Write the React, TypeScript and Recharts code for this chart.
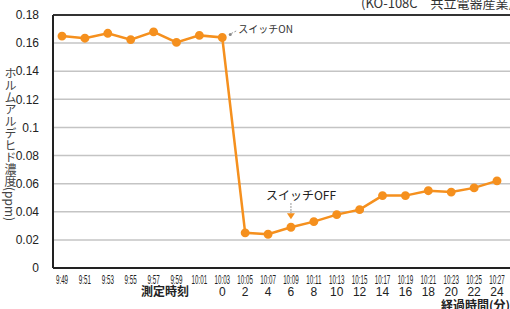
import React from 'react';
import { LineChart, Line, XAxis, YAxis, CartesianGrid, ReferenceLine, ReferenceDot } from 'recharts';

const times = ['9:49', '9:51', '9:53', '9:55', '9:57', '9:59', '10:01', '10:03', '10:05', '10:07', '10:09', '10:11', '10:13', '10:15', '10:17', '10:19', '10:21', '10:23', '10:25', '10:27'];
const elapsedMinutes = ['', '', '', '', '', '', '', '0', '2', '4', '6', '8', '10', '12', '14', '16', '18', '20', '22', '24'];
const formaldehyde = [0.165, 0.1635, 0.167, 0.1625, 0.168, 0.1605, 0.1655, 0.164, 0.025, 0.024, 0.029, 0.033, 0.038, 0.0415, 0.0515, 0.0515, 0.055, 0.054, 0.057, 0.062];
const yTicks = [0, 0.02, 0.04, 0.06, 0.08, 0.1, 0.12, 0.14, 0.16, 0.18];

const data = times.map((t, i) => ({ time: t, value: formaldehyde[i] }));

const ORANGE = '#f5901e';
const JP = "'Noto Sans CJK JP', 'Noto Sans', sans-serif";
const SANS = "'Liberation Sans', Arial, sans-serif";

const TimeTick = (props: any) => {
  const { x, y, payload } = props;
  const label = String(payload.value);
  const idx = times.indexOf(label);
  const el = idx >= 0 ? elapsedMinutes[idx] : '';
  return (
    <g>
      <text
        transform={`translate(${x},${y + 10}) scale(0.52,1)`}
        x={0}
        y={0}
        textAnchor="middle"
        dominantBaseline="central"
        fontSize={12}
        fontFamily={SANS}
        fill="#222"
      >
        {label}
      </text>
      {el !== '' && (
        <text x={x} y={y + 22} textAnchor="middle" dominantBaseline="central" fontSize={12} fontFamily={SANS} fill="#222">
          {el}
        </text>
      )}
    </g>
  );
};

const OnMarker = (p: any) => {
  const { cx, cy } = p;
  return (
    <g>
      <circle cx={cx + 8} cy={cy - 3} r={1.5} fill="#888" />
      <line x1={cx + 9} y1={cy - 4} x2={cx + 15} y2={cy - 7} stroke="#999" strokeDasharray="2 1.5" />
      <text x={cx + 16} y={cy - 9} dominantBaseline="central" fontSize={10} fontFamily={JP} fill="#333">スイッチON</text>
    </g>
  );
};

const OffMarker = (p: any) => {
  const { cx, cy } = p;
  return (
    <g>
      <text x={cx - 25} y={cy - 33} dominantBaseline="central" fontSize={12} fontFamily={JP} fill="#222">スイッチOFF</text>
      <line x1={cx} y1={cy - 24} x2={cx} y2={cy - 14} stroke="#777" strokeDasharray="1.5 1.5" />
      <path d={`M ${cx - 4} ${cy - 14} L ${cx + 4} ${cy - 14} L ${cx} ${cy - 8} Z`} fill={ORANGE} />
    </g>
  );
};

export default function App() {
  return (
    <div style={{ position: 'absolute', left: 0, top: 0, width: 510, height: 309, background: '#fff', overflow: 'hidden' }}>
      <LineChart width={510} height={309} data={data} margin={{ top: 15, right: 0, bottom: 0, left: 0 }}>
        <CartesianGrid vertical={false} stroke="#c4c4c4" strokeWidth={1.5} />
        <XAxis
          dataKey="time"
          interval={0}
          height={41}
          tickSize={0}
          tickLine={false}
          tick={<TimeTick />}
          padding={{ left: 9, right: 13 }}
          axisLine={{ stroke: '#222', strokeWidth: 2 }}
        />
        <YAxis
          width={53}
          domain={[0, 0.18]}
          ticks={yTicks}
          tickLine={false}
          tickMargin={8}
          tickFormatter={(v: number) => String(v)}
          tick={{ fontSize: 12, fill: '#222', fontFamily: SANS }}
          axisLine={{ stroke: '#222', strokeWidth: 2 }}
        />
        <ReferenceLine y={0.18} stroke="#333" strokeWidth={2} />
        <Line
          type="linear"
          dataKey="value"
          stroke={ORANGE}
          strokeWidth={2.5}
          dot={{ r: 3.2, fill: ORANGE, stroke: ORANGE }}
          isAnimationActive={false}
        />
        <ReferenceDot x="10:03" y={formaldehyde[7]} shape={<OnMarker />} />
        <ReferenceDot x="10:09" y={formaldehyde[10]} shape={<OffMarker />} />
      </LineChart>
      <div style={{ position: 'absolute', right: -3, top: -4, fontSize: 13, lineHeight: '14px', fontFamily: JP, color: '#333', whiteSpace: 'nowrap' }}>
        (KO-108C　共立電器産業)
      </div>
      <div style={{ position: 'absolute', left: 2, top: 67, fontSize: 12, fontFamily: JP, color: '#444', writingMode: 'vertical-rl', lineHeight: '16px', whiteSpace: 'nowrap' }}>
        ホルムアルデヒド濃度(ppm)
      </div>
      <div style={{ position: 'absolute', left: 141, top: 284, fontSize: 12, fontWeight: 600, fontFamily: JP, color: '#222', whiteSpace: 'nowrap', lineHeight: '14px' }}>
        測定時刻
      </div>
      <div style={{ position: 'absolute', right: 0, top: 298, fontSize: 12, fontWeight: 600, fontFamily: JP, color: '#222', whiteSpace: 'nowrap', lineHeight: '14px' }}>
        経過時間(分)
      </div>
    </div>
  );
}
